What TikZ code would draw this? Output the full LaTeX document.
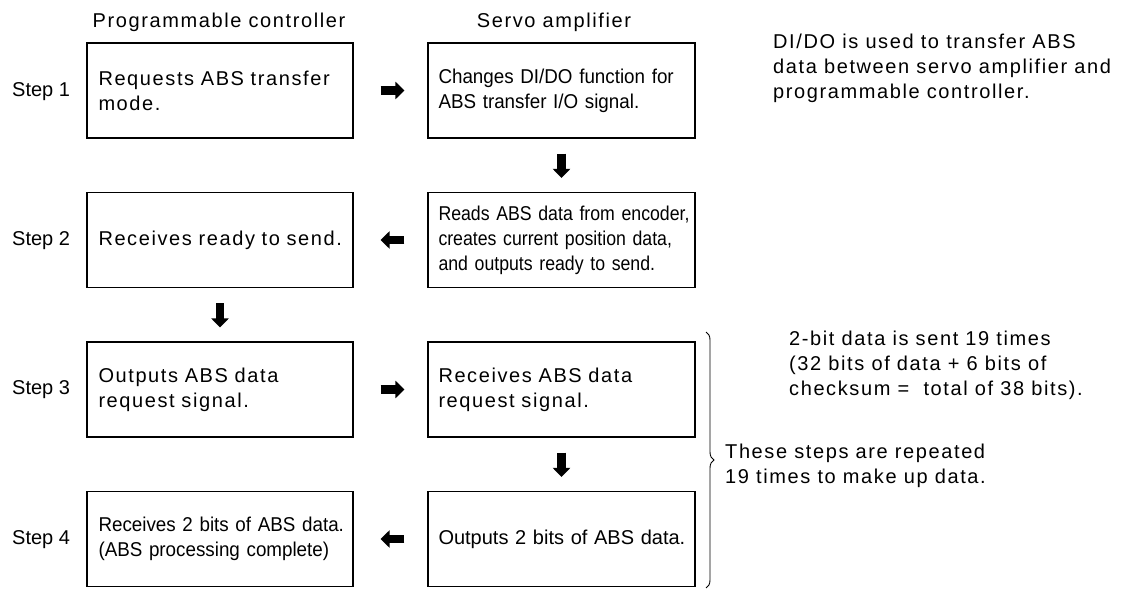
\documentclass[tikz,border=0pt]{standalone}
\usepackage{fontspec}
\setmainfont{Liberation Sans}
\newfontfamily\spacedfont[LetterSpace=8]{Liberation Sans}
\newfontfamily\narrowfont[FakeStretch=0.94]{Liberation Sans}
\newfontfamily\narrowerfont[FakeStretch=0.885]{Liberation Sans}
\usetikzlibrary{arrows.meta,decorations.pathreplacing}
\begin{document}
\begin{tikzpicture}[x=1pt,y=-1pt,
  sp/.style={font=\spacedfont\fontsize{20pt}{25pt}\selectfont},
  pl/.style={font=\fontsize{20pt}{25pt}\selectfont},
  nr/.style={font=\narrowfont\fontsize{20pt}{25pt}\selectfont},
  nrr/.style={font=\narrowerfont\fontsize{20pt}{25pt}\selectfont},
  box/.style={draw, line width=1.1pt, minimum height=95pt, inner ysep=0pt, align=left},
  lbox/.style={box, text width=243pt, inner xsep=11.5pt},
  rbox/.style={box, text width=246pt, inner xsep=10.5pt},
  note/.style={sp, anchor=west, align=left, inner sep=0pt},
  steplabel/.style={pl, anchor=west, inner sep=0pt},
  blk/.style={line width=8.5pt, -{Triangle[length=9pt,width=17pt]}},
  hblk/.style={blk, shorten <=27pt, shorten >=23pt},
  hblkr/.style={blk, shorten <=23pt, shorten >=27pt},
  vblk/.style={blk, shorten <=15pt, shorten >=14pt}
]
\useasboundingbox (0,0) rectangle (1124,593);

% headers
\node[sp] (hpc) at (219,22) {Programmable controller};
\node[sp] (hsa) at (554,22) {Servo amplifier};

% step labels
\node[steplabel] (s1) at (12,92) {Step 1};
\node[steplabel] (s2) at (12,241) {Step 2};
\node[steplabel] (s3) at (12,390) {Step 3};
\node[steplabel] (s4) at (12,540) {Step 4};

% boxes
\node[lbox, sp] (L1) at (220,90.5) {\mbox{Requests ABS transfer}\\mode.};
\node[rbox, nr] (R1) at (561.5,90.5) {\mbox{Changes DI/DO function for}\\\mbox{ABS transfer I/O signal.}};
\node[lbox, sp] (L2) at (220,240) {\mbox{Receives ready to send.}};
\node[rbox, nrr] (R2) at (561.5,240) {\mbox{Reads ABS data from encoder,}\\\mbox{creates current position data,}\\\mbox{and outputs ready to send.}};
\node[lbox, sp] (L3) at (220,389.5) {\mbox{Outputs ABS data}\\\mbox{request signal.}};
\node[rbox, sp] (R3) at (561.5,389.5) {\mbox{Receives ABS data}\\\mbox{request signal.}};
\node[lbox, nr] (L4) at (220,539) {\mbox{Receives 2 bits of ABS data.}\\\mbox{(ABS processing complete)}};
\node[rbox, pl] (R4) at (561.5,539) {\mbox{Outputs 2 bits of ABS data.}};

% arrows
\draw[hblk] (L1.east) -- (R1.west);
\draw[vblk] (R1.south) -- (R2.north);
\draw[hblkr] (R2.west) -- (L2.east);
\draw[vblk] (L2.south) -- (L3.north);
\draw[hblk] (L3.east) -- (R3.west);
\draw[vblk] (R3.south) -- (R4.north);
\draw[hblkr] (R4.west) -- (L4.east);

% notes
\node[note] (n1) at (773,68) {DI/DO is used to transfer ABS\\data between servo amplifier and\\programmable controller.};
\node[note] (n2) at (789,365) {2-bit data is sent 19 times\\(32 bits of data + 6 bits of\\checksum = \ total of 38 bits).};
\node[note] (n3) at (725,465.5) {These steps are repeated\\19 times to make up data.};

% brace
\coordinate (bt) at (706,332);
\coordinate (bb) at (706,588);
\draw[line width=0.9pt, decorate, decoration={brace, amplitude=8pt}] (bt) -- (bb);
\end{tikzpicture}
\end{document}
